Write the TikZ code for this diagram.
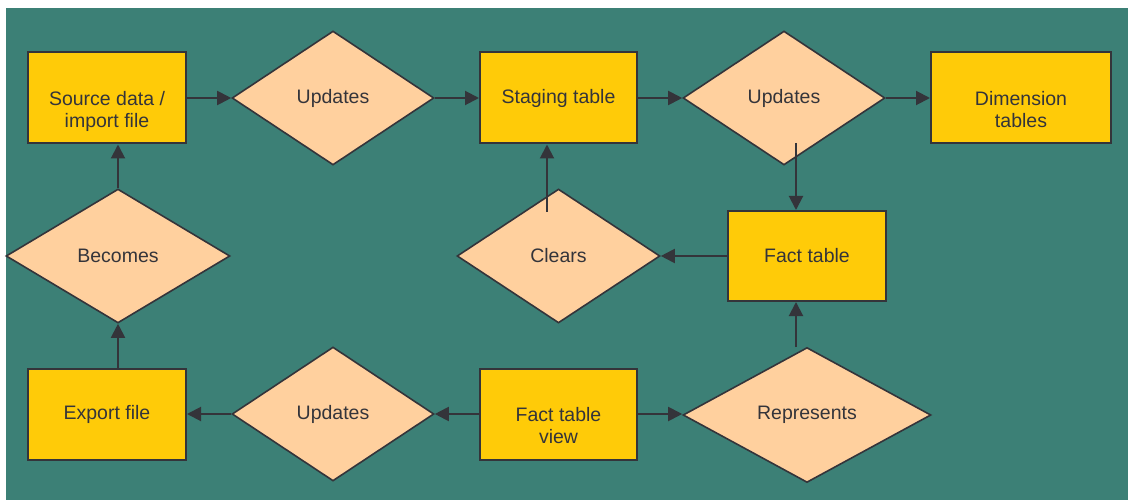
\documentclass[tikz,border=0pt]{standalone}
\usepackage{fontspec}
\setmainfont{Liberation Sans}
\usetikzlibrary{shapes.geometric,arrows.meta}
\definecolor{bgteal}{RGB}{60,128,118}
\definecolor{boxgold}{RGB}{255,203,8}
\definecolor{diapeach}{RGB}{255,208,158}
\definecolor{inkgray}{RGB}{52,52,58}
\begin{document}
\begin{tikzpicture}[x=1pt,y=-1pt,
  every node/.style={font=\fontsize{19.5}{22.5}\selectfont, text=inkgray, align=center},
  stepbox/.style={draw=inkgray, line width=2pt, fill=boxgold, inner sep=0pt},
  decision/.style={diamond, draw=inkgray, line width=1.6pt, fill=diapeach, inner sep=0pt,
    minimum width=202pt, minimum height=134pt},
  boxtext/.style={inner sep=0pt, anchor=center},
  flow/.style={draw=inkgray, line width=2pt, -{Triangle[length=14pt,width=14pt]}}]
  \useasboundingbox (0,0) rectangle (1128,500);
  \fill[white] (0,0) rectangle (1128,500);
  \fill[bgteal] (6,8) rectangle (1128,500);

  % top row
  \node[stepbox, minimum width=158pt, minimum height=91pt] (src) at (107,98) {};
  \node[boxtext] (srctext) at ([yshift=-13.5pt]src.center) {Source data /\\import file};
  \node[decision] (upd1) at (333,98) {Updates};
  \node[stepbox, minimum width=157pt, minimum height=91pt] (stage) at (558.5,98) {Staging table};
  \node[decision] (upd2) at (784,98) {Updates};
  \node[stepbox, minimum width=180pt, minimum height=91pt] (dim) at (1021,98) {};
  \node[boxtext] (dimtext) at ([yshift=-11.5pt]dim.center) {Dimension\\tables};

  % middle row
  \node[decision, minimum width=224pt] (becomes) at (118,256) {Becomes};
  \node[decision, minimum width=203pt] (clears) at (558.5,256) {Clears};
  \node[stepbox, minimum width=158pt, minimum height=90pt] (fact) at (807,256) {Fact table};

  % bottom row
  \node[stepbox, minimum width=158pt, minimum height=91pt] (export) at (107,414) {Export file};
  \node[decision] (upd3) at (333,414) {Updates};
  \node[stepbox, minimum width=157pt, minimum height=91pt] (view) at (558.5,414) {};
  \node[boxtext] (viewtext) at ([yshift=-11.5pt]view.center) {Fact table\\view};
  \node[decision, minimum width=248pt, minimum height=135pt] (repr) at (807,415) {Represents};

  % free ends of the vertical connectors
  \coordinate (upd2out) at (796,143);
  \coordinate (clearsout) at (547,212);
  \coordinate (reprout) at (796,347);

  % connectors
  \draw[flow] (src) -- (upd1);
  \draw[flow] (upd1) -- (stage);
  \draw[flow] (stage) -- (upd2);
  \draw[flow] (upd2) -- (dim);
  \draw[flow] (upd2out) -- (upd2out |- fact.north);
  \draw[flow] (fact) -- (clears);
  \draw[flow] (clearsout) -- (clearsout |- stage.south);
  \draw[flow] (reprout) -- (reprout |- fact.south);
  \draw[flow] (view) -- (view -| repr.west);
  \draw[flow] (view) -- (upd3);
  \draw[flow] (upd3) -- (export);
  \draw[flow] (becomes.south |- export.north) -- (becomes.south);
  \draw[flow] (becomes.north) -- (becomes.north |- src.south);
\end{tikzpicture}
\end{document}
